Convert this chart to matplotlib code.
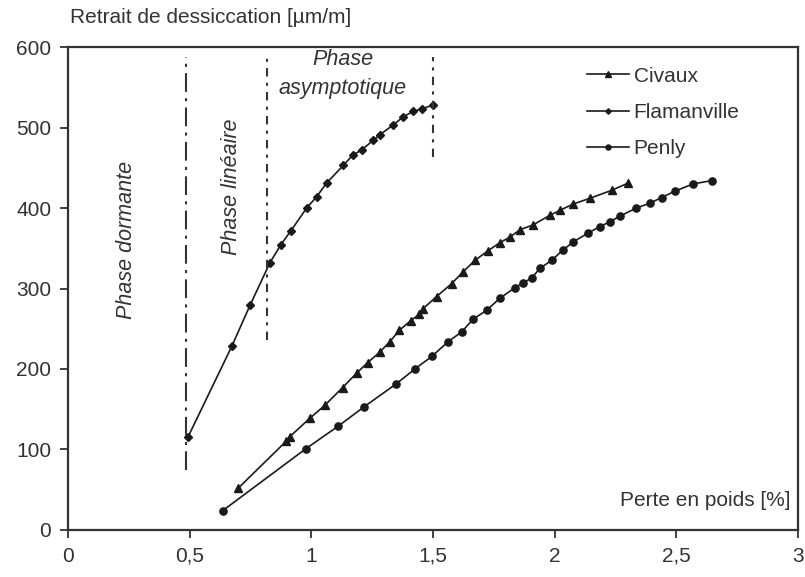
import matplotlib
matplotlib.use("Agg")
import matplotlib.pyplot as plt

plt.rcParams["font.family"] = ["Liberation Sans", "DejaVu Sans"]

# perte en poids [%] / retrait [um/m]
civaux_x = [0.700, 0.896, 0.912, 0.995, 1.056, 1.129, 1.187, 1.232, 1.282, 1.323,
            1.362, 1.409, 1.444, 1.460, 1.515, 1.577, 1.625, 1.673, 1.727, 1.776,
            1.817, 1.858, 1.912, 1.981, 2.022, 2.077, 2.145, 2.235, 2.303]
civaux_y = [52, 110, 116, 139, 155, 177, 195, 208, 221, 234,
            248, 260, 268, 275, 290, 306, 321, 335, 347, 357,
            364, 373, 379, 391, 397, 405, 412, 422, 431]

flam_x = [0.494, 0.673, 0.748, 0.830, 0.874, 0.917, 0.981, 1.022, 1.063, 1.132,
          1.171, 1.207, 1.254, 1.282, 1.336, 1.377, 1.418, 1.454, 1.500]
flam_y = [116, 228, 279, 332, 354, 372, 400, 414, 431, 453,
          466, 472, 484, 491, 503, 513, 520, 523, 528]

penly_x = [0.636, 0.978, 1.111, 1.217, 1.347, 1.426, 1.497, 1.563, 1.618, 1.666,
           1.721, 1.776, 1.837, 1.871, 1.906, 1.940, 1.988, 2.036, 2.077, 2.139,
           2.187, 2.228, 2.269, 2.337, 2.392, 2.440, 2.496, 2.570, 2.646]
penly_y = [24, 101, 129, 153, 181, 200, 216, 234, 246, 262,
           273, 288, 301, 307, 313, 325, 335, 348, 358, 369,
           377, 383, 390, 400, 406, 413, 421, 430, 434]

# limites des phases (x, y bas, y haut)
phase_x = [0.487, 0.817, 1.501]
phase_ymin = [75, 236, 463]
phase_ymax = [588, 586, 587]

xticks = [0, 0.5, 1, 1.5, 2, 2.5, 3]
xtick_labels = ["0", "0,5", "1", "1,5", "2", "2,5", "3"]
yticks = [0, 100, 200, 300, 400, 500, 600]

fig = plt.figure(figsize=(8.05, 5.77), dpi=100)
ax = fig.add_axes([0.0845, 0.0815, 0.9065, 0.837])

ink = "#1a1a1a"
ax.plot(civaux_x, civaux_y, color=ink, lw=1.2, marker="^", ms=5.5, label="Civaux")
ax.plot(flam_x, flam_y, color=ink, lw=1.2, marker="D", ms=4, label="Flamanville")
ax.plot(penly_x, penly_y, color=ink, lw=1.2, marker="o", ms=5.2, label="Penly")

dashes = [(0, (9, 3, 1.5, 3)), (0, (4, 3, 1.5, 3)), (0, (4, 3, 1.5, 3))]
for x, y0, y1, ls in zip(phase_x, phase_ymin, phase_ymax, dashes):
    ax.plot([x, x], [y0, y1], color="#333333", lw=1.5, linestyle=ls)

ax.text(0.241, 360, "Phase dormante", rotation=90, style="italic",
        fontsize=15.5, ha="center", va="center", color="#333333")
ax.text(0.673, 426, "Phase linéaire", rotation=90, style="italic",
        fontsize=15.5, ha="center", va="center", color="#333333")
ax.text(1.13, 584, "Phase", style="italic", fontsize=15.5,
        ha="center", va="center", color="#333333")
ax.text(1.13, 549, "asymptotique", style="italic", fontsize=15.5,
        ha="center", va="center", color="#333333")
ax.text(2.97, 37, "Perte en poids [%]", fontsize=15,
        ha="right", va="center", color="#333333")
fig.text(0.087, 0.969, "Retrait de dessiccation [µm/m]", fontsize=15,
         ha="left", va="center", color="#333333")

ax.set_xlim(0, 3)
ax.set_ylim(0, 600)
ax.set_xticks(xticks)
ax.set_xticklabels(xtick_labels)
ax.set_yticks(yticks)
ax.tick_params(direction="out", length=6, width=1.3, labelsize=15,
               colors="#333333", pad=6)
for s in ax.spines.values():
    s.set_linewidth(1.6)
    s.set_color("#333333")

leg = ax.legend(loc="upper right", bbox_to_anchor=(0.946, 0.998), frameon=False,
                fontsize=15, handlelength=2.0, handletextpad=0.25,
                labelspacing=0.82, markerscale=0.7)
for t in leg.get_texts():
    t.set_color("#333333")

fig.savefig("out.png", dpi=100)
